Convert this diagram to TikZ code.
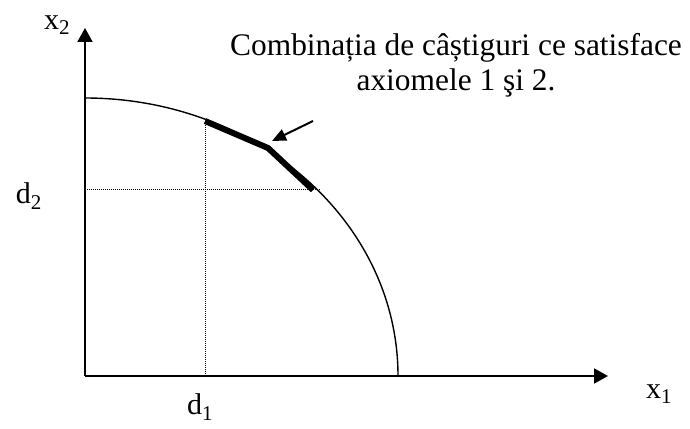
\documentclass[tikz,border=0pt]{standalone}
\usepackage{fontspec}
\setmainfont{Liberation Serif}
\usetikzlibrary{arrows.meta}

\begin{document}
\begin{tikzpicture}[x=1pt,y=1pt,
    axis/.style={line width=2pt,-{Triangle[length=14pt,width=15pt]}},
    guide/.style={densely dotted,line width=1pt},
    lbl/.style={font=\fontsize{30}{34}\selectfont,inner sep=0pt}]
\useasboundingbox (0,0) rectangle (690,428);

% Axes
\coordinate (O) at (85,52);
\coordinate (xend) at (608,52);
\coordinate (yend) at (85,400);
\draw[axis] (O) -- (xend);
\draw[axis] (O) -- (yend);
\node[lbl] (x1) at (659,34) {x\textsubscript{1}};
\node[lbl] (x2) at (57,403) {x\textsubscript{2}};

% Frontier
\coordinate (top) at (85,330);
\draw[line width=1.4pt] (top) arc[start angle=90,end angle=0,x radius=313,y radius=278];

% Agreement point
\coordinate (p1) at (205,307);
\coordinate (pm) at (268,280);
\coordinate (p2) at (313,238);
\draw[line width=6pt] (p1) -- (pm) -- (p2);

% Guide lines
\coordinate (d1base) at (205,52);
\coordinate (d2end) at (321,238);
\coordinate (d2base) at (85,238);
\draw[guide] (d1base) -- (p1);
\draw[guide] (d2base) -- (d2end);
\node[lbl] (d1) at (200,21) {d\textsubscript{1}};
\node[lbl] (d2) at (29,232) {d\textsubscript{2}};

% Caption and pointer
\node[lbl,align=center,font=\fontsize{31.4}{35}\selectfont] (note) at (456,363)
  {Combinația de câștiguri ce satisface\\axiomele 1 şi 2.};
\coordinate (tail) at (313,307);
\coordinate (tip) at (272,287);
\draw[line width=2pt,-{Triangle[length=14pt,width=12pt]}] (tail) -- (tip);

\end{tikzpicture}
\end{document}
